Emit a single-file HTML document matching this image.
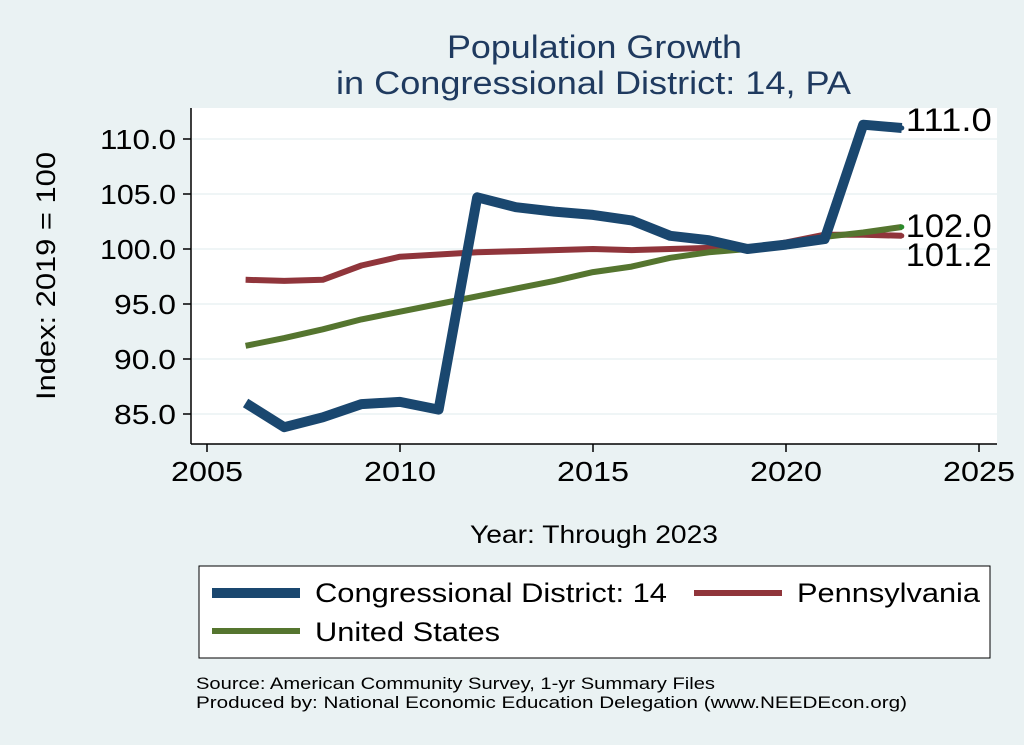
<!DOCTYPE html>
<html><head><meta charset="utf-8"><style>
body{margin:0;background:#eaf2f3;}
svg{display:block;font-family:"Liberation Sans",sans-serif;}
</style></head><body>
<svg id="c" width="1024" height="745">
<rect x="0" y="0" width="1024" height="745" fill="#eaf2f3"/>
<rect x="191" y="108" width="806" height="336" fill="#fff"/>
<text x="447" y="58" font-size="32" fill="#1f3a5f" textLength="295" lengthAdjust="spacingAndGlyphs">Population Growth</text>
<text x="336" y="94" font-size="32" fill="#1f3a5f" textLength="515" lengthAdjust="spacingAndGlyphs">in Congressional District: 14, PA</text>
<g id="grid"></g><g id="axes"></g><g id="series"></g>
<text transform="translate(55,152) rotate(-90)" text-anchor="end" font-size="27" fill="#000" textLength="248" lengthAdjust="spacingAndGlyphs">Index: 2019 = 100</text>
<text x="470" y="543" font-size="25" fill="#000" textLength="248" lengthAdjust="spacingAndGlyphs">Year: Through 2023</text>
<rect x="199" y="566" width="791" height="92" fill="#fff" stroke="#000" stroke-width="1"/>
<g><line x1="212" y1="593" x2="300" y2="593" stroke="#1a476f" stroke-width="10"/><text x="315" y="602" font-size="27" textLength="352" lengthAdjust="spacingAndGlyphs">Congressional District: 14</text></g>
<g><line x1="694" y1="593" x2="782" y2="593" stroke="#90353b" stroke-width="6"/><text x="797" y="602" font-size="27" textLength="183" lengthAdjust="spacingAndGlyphs">Pennsylvania</text></g>
<g><line x1="212" y1="631" x2="300" y2="631" stroke="#55752f" stroke-width="6"/><text x="315" y="641" font-size="27" textLength="185" lengthAdjust="spacingAndGlyphs">United States</text></g>
<text x="196" y="689" font-size="17" textLength="519" lengthAdjust="spacingAndGlyphs">Source: American Community Survey, 1-yr Summary Files</text>
<text x="196" y="708" font-size="17" textLength="711" lengthAdjust="spacingAndGlyphs">Produced by: National Economic Education Delegation (www.NEEDEcon.org)</text>
</svg>
<script>
const years=[2006,2007,2008,2009,2010,2011,2012,2013,2014,2015,2016,2017,2018,2019,2020,2021,2022,2023];
const cd14=[86.0,83.8,84.7,85.9,86.1,85.4,104.7,103.8,103.4,103.1,102.6,101.2,100.8,100.0,100.4,100.9,111.3,111.0];
const pa=[97.2,97.1,97.2,98.5,99.3,99.5,99.7,99.8,99.9,100.0,99.9,100.0,100.1,100.0,100.6,101.3,101.3,101.2];
const us=[91.2,91.9,92.7,93.6,94.3,95.0,95.7,96.4,97.1,97.9,98.4,99.2,99.7,100.0,100.5,101.1,101.5,102.0];
const yTicks=[85,90,95,100,105,110];
const xTicks=[2005,2010,2015,2020,2025];
const ns="http://www.w3.org/2000/svg";
const X=v=>207+(v-2005)*(979-207)/20;
const Y=v=>414-(v-85)*(414-139)/25;
function mk(t,a,p){const e=document.createElementNS(ns,t);for(const k in a)e.setAttribute(k,a[k]);p.appendChild(e);return e;}
const grid=document.getElementById('grid'),axes=document.getElementById('axes'),ser=document.getElementById('series');
mk('line',{x1:191,y1:108,x2:191,y2:444,stroke:'#000','stroke-width':1.5},axes);
mk('line',{x1:191,y1:444,x2:997,y2:444,stroke:'#000','stroke-width':1.5},axes);
yTicks.forEach(v=>{
 const g=mk('line',{x1:192,y1:Y(v),x2:997,y2:Y(v),stroke:'#eaf2f3','stroke-width':1.5},grid);
 
 
 mk('line',{x1:183,y1:Y(v),x2:191,y2:Y(v),stroke:'#000','stroke-width':1.5},axes);
 const t=mk('text',{x:176,y:Y(v)+10,'text-anchor':'end','font-size':28},axes);t.textContent=v.toFixed(1);
 
 
 const w=v>=100?76:62;t.setAttribute('textLength',w);t.setAttribute('lengthAdjust','spacingAndGlyphs');
});
xTicks.forEach(v=>{
 mk('line',{x1:X(v),y1:444,x2:X(v),y2:452,stroke:'#000','stroke-width':1.5},axes);
 const t=mk('text',{x:X(v),y:481,'text-anchor':'middle','font-size':28,textLength:72,lengthAdjust:'spacingAndGlyphs'},axes);t.textContent=v;
 
 
});
function line(d,c,w,name){
 const p=mk('polyline',{points:d.map((v,i)=>X(years[i])+','+Y(v)).join(' '),fill:'none',stroke:c,'stroke-width':w,'stroke-linejoin':'round'},ser);
 
 
}
line(pa,'#90353b',6,'line-pennsylvania');
line(us,'#55752f',6,'line-united-states');
line(cd14,'#1a476f',10,'line-cd14');
const n=years.length-1;
[[cd14[n],-6,'#1a476f'],[us[n],1,'#2a8a2a'],[pa[n],21,'#90353b']].forEach((a,i)=>{
 const t=mk('text',{x:X(years[n])+4,y:Y(a[0])+a[1]+9,'font-size':32,textLength:86,lengthAdjust:'spacingAndGlyphs'},ser);t.textContent=a[0].toFixed(1);
 
 
 mk('circle',{cx:X(years[n]),cy:Y(a[0]),r:2.5,fill:a[2]},ser);
});
</script>
</body></html>
